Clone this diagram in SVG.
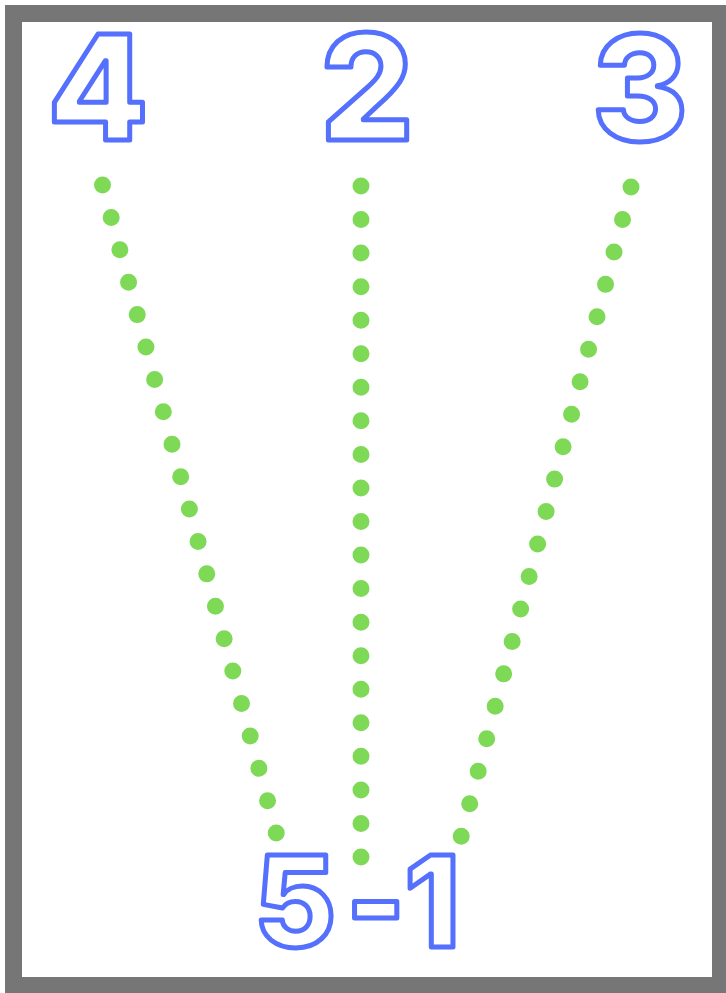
<svg xmlns="http://www.w3.org/2000/svg" width="726" height="993" viewBox="0 0 726 993">
<style>
.num{font-family:Inter,"Liberation Sans",sans-serif;font-weight:800;fill:#ffffff;stroke:#5470fd;stroke-width:5;stroke-linejoin:round}
.dots{stroke:#7ed957;stroke-width:17;stroke-linecap:round;stroke-dasharray:0 33.55;fill:none}
</style>
<rect x="0" y="0" width="726" height="993" fill="#ffffff"/>
<rect id="frame" x="13.5" y="13.5" width="707" height="972" fill="none" stroke="#767676" stroke-width="17"/>
<g id="connectors">
<line class="dots" x1="102.5" y1="185" x2="276.5" y2="834"/>
<line class="dots" x1="361" y1="186" x2="361" y2="857"/>
<line class="dots" x1="631" y1="187" x2="461" y2="837"/>
</g>
<g id="n4"><text class="num" x="98" y="140" font-size="146" text-anchor="middle">4</text></g>
<g id="n2"><text class="num" x="367" y="140" font-size="146" text-anchor="middle">2</text></g>
<g id="n3"><text class="num" x="640" y="141" font-size="146" text-anchor="middle">3</text></g>
<g id="n51"><text class="num" x="359" y="947" font-size="126" text-anchor="middle" letter-spacing="4" dx="0 6 -5">5-1</text></g>
</svg>
